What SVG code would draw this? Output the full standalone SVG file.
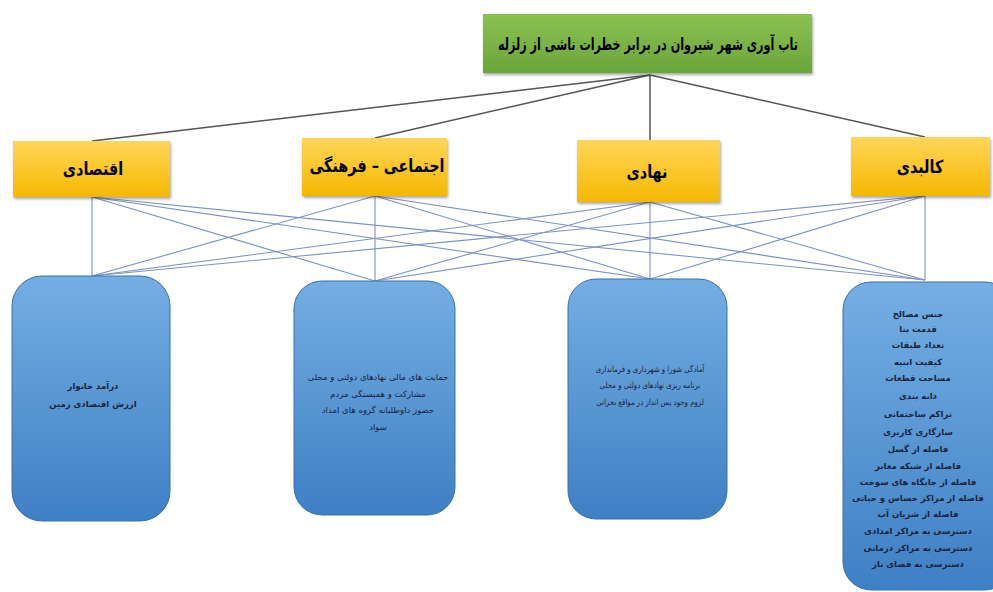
<svg xmlns="http://www.w3.org/2000/svg" width="993" height="592" viewBox="0 0 993 592">
<defs>
<linearGradient id="gGreen" x1="0" y1="0" x2="0" y2="1"><stop offset="0" stop-color="#8cc152"/><stop offset="1" stop-color="#6aa53a"/></linearGradient>
<linearGradient id="gYellow" x1="0" y1="0" x2="0" y2="1"><stop offset="0" stop-color="#ffd65a"/><stop offset="1" stop-color="#f5b800"/></linearGradient>
<linearGradient id="gBlue" x1="0" y1="0" x2="0" y2="1"><stop offset="0" stop-color="#74aee3"/><stop offset="1" stop-color="#3f7fc4"/></linearGradient>
<filter id="sh" x="-10%" y="-10%" width="130%" height="140%"><feDropShadow dx="1" dy="2" stdDeviation="1.5" flood-color="#000" flood-opacity="0.35"/></filter>
</defs>
<style>
.title{font-family:"DejaVu Sans",sans-serif;font-weight:bold;font-size:17px;fill:#000;text-anchor:middle}
.cat{font-family:"DejaVu Sans",sans-serif;font-weight:bold;font-size:18px;fill:#000;text-anchor:middle}
.item{font-family:"DejaVu Sans",sans-serif;font-size:8.5px;fill:#1b2440;text-anchor:middle}
.b{font-weight:bold}
.top{stroke:#555;stroke-width:1.5;fill:none}
.low{stroke:#7d92c9;stroke-width:1.1;fill:none}
.ybox{fill:url(#gYellow);filter:url(#sh)}
.bbox{fill:url(#gBlue);stroke:#3b6fae;stroke-width:1}
</style>
<rect width="993" height="592" fill="#fff"/>
<g id="connectors">
<line class="top" x1="650" y1="75" x2="92" y2="141"/>
<line class="top" x1="650" y1="75" x2="375" y2="138"/>
<line class="top" x1="650" y1="75" x2="650" y2="140"/>
<line class="top" x1="650" y1="75" x2="925" y2="137"/>
<line class="low" x1="92" y1="197" x2="92" y2="276"/>
<line class="low" x1="92" y1="197" x2="375" y2="281"/>
<line class="low" x1="92" y1="197" x2="650" y2="279"/>
<line class="low" x1="92" y1="197" x2="925" y2="280"/>
<line class="low" x1="375" y1="196" x2="92" y2="276"/>
<line class="low" x1="375" y1="196" x2="375" y2="281"/>
<line class="low" x1="375" y1="196" x2="650" y2="279"/>
<line class="low" x1="375" y1="196" x2="925" y2="280"/>
<line class="low" x1="650" y1="202" x2="92" y2="276"/>
<line class="low" x1="650" y1="202" x2="375" y2="281"/>
<line class="low" x1="650" y1="202" x2="650" y2="279"/>
<line class="low" x1="650" y1="202" x2="925" y2="280"/>
<line class="low" x1="925" y1="196" x2="92" y2="276"/>
<line class="low" x1="925" y1="196" x2="375" y2="281"/>
<line class="low" x1="925" y1="196" x2="650" y2="279"/>
<line class="low" x1="925" y1="196" x2="925" y2="280"/>
</g>
<g id="root">
<rect x="483" y="14" width="329" height="59" fill="url(#gGreen)" filter="url(#sh)"/>
<text class="title" transform="translate(648 50) scale(0.66 1)" x="0" y="0" direction="rtl">تاب آوری شهر شیروان در برابر خطرات ناشی از زلزله</text>
</g>
<g id="cat-eghtesadi">
<rect class="ybox" x="13" y="141" width="157" height="56"/>
<text class="cat" transform="translate(93 175) scale(0.8 1)" x="0" y="0" direction="rtl">اقتصادی</text>
</g>
<g id="cat-ejtemaei">
<rect class="ybox" x="302" y="138" width="145" height="58"/>
<text class="cat" transform="translate(377 172) scale(0.8 1)" x="0" y="0" direction="rtl">اجتماعی – فرهنگی</text>
</g>
<g id="cat-nahadi">
<rect class="ybox" x="577" y="140" width="143" height="62"/>
<text class="cat" transform="translate(647 178) scale(0.8 1)" x="0" y="0" direction="rtl">نهادی</text>
</g>
<g id="cat-kalbadi">
<rect class="ybox" x="851" y="137" width="139" height="59"/>
<text class="cat" transform="translate(920 173) scale(0.8 1)" x="0" y="0" direction="rtl">کالبدی</text>
</g>
<g id="box-eghtesadi">
<rect class="bbox" x="12" y="276" width="158" height="245" rx="30"/>
<text class="item b" x="93" y="389" direction="rtl">درآمد خانوار</text>
<text class="item b" x="93" y="407" direction="rtl">ارزش اقتصادی زمین</text>
</g>
<g id="box-ejtemaei">
<rect class="bbox" x="294" y="281" width="161" height="234" rx="28"/>
<text class="item" x="378" y="380" direction="rtl">حمایت های مالی نهادهای دولتی و محلی</text>
<text class="item" x="378" y="397" direction="rtl">مشارکت و همبستگی مردم</text>
<text class="item" x="378" y="413" direction="rtl">حضور داوطلبانه گروه های امداد</text>
<text class="item" x="378" y="430" direction="rtl">سواد</text>
</g>
<g id="box-nahadi">
<rect class="bbox" x="568" y="279" width="159" height="240" rx="28"/>
<g transform="translate(650 0) scale(0.82 1)">
<text class="item" x="0" y="372" direction="rtl">آمادگی شورا و شهرداری و فرمانداری</text>
<text class="item" x="0" y="388" direction="rtl">برنامه ریزی نهادهای دولتی و محلی</text>
<text class="item" x="0" y="405" direction="rtl">لزوم وجود پس انداز در مواقع بحرانی</text>
</g>
</g>
<g id="box-kalbadi">
<rect class="bbox" x="843" y="282" width="170" height="308" rx="28"/>
<g transform="translate(918 0)">
<text class="item b" x="0" y="317" direction="rtl">جنس مصالح</text>
<text class="item b" x="0" y="332" direction="rtl">قدمت بنا</text>
<text class="item b" x="0" y="348" direction="rtl">تعداد طبقات</text>
<text class="item b" x="0" y="365" direction="rtl">کیفیت ابنیه</text>
<text class="item b" x="0" y="381" direction="rtl">مساحت قطعات</text>
<text class="item b" x="0" y="399" direction="rtl">دانه بندی</text>
<text class="item b" x="0" y="417" direction="rtl">تراکم ساختمانی</text>
<text class="item b" x="0" y="435" direction="rtl">سازگاری کاربری</text>
<text class="item b" x="0" y="452" direction="rtl">فاصله از گسل</text>
<text class="item b" x="0" y="469" direction="rtl">فاصله از شبکه معابر</text>
<text class="item b" x="0" y="485" direction="rtl">فاصله از جایگاه های سوخت</text>
<text class="item b" x="0" y="501" direction="rtl">فاصله از مراکز حساس و حیاتی</text>
<text class="item b" x="0" y="517" direction="rtl">فاصله از شریان آب</text>
<text class="item b" x="0" y="534" direction="rtl">دسترسی به مراکز امدادی</text>
<text class="item b" x="0" y="551" direction="rtl">دسترسی به مراکز درمانی</text>
<text class="item b" x="0" y="567" direction="rtl">دسترسی به فضای باز</text>
</g>
</g>
</svg>
